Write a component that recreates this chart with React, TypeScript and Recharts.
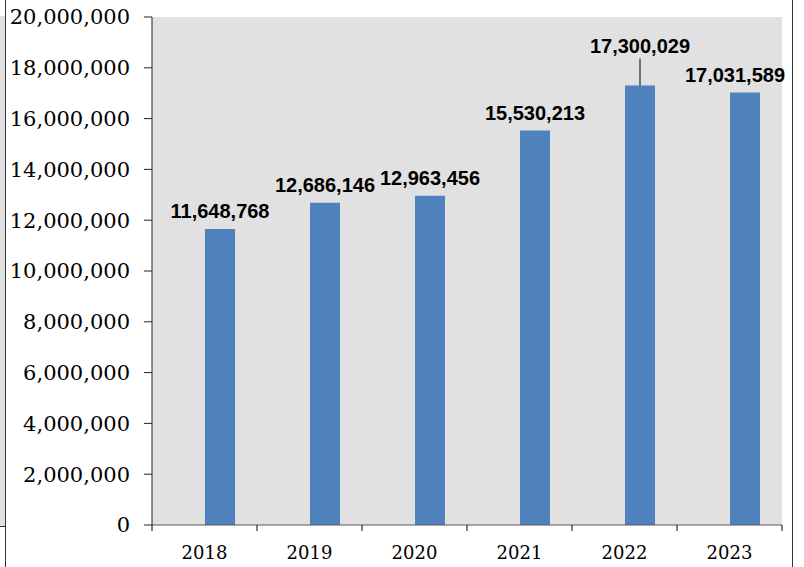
import React from 'react';
import { BarChart, Bar, XAxis, YAxis, CartesianGrid, LabelList } from 'recharts';

const years = ['2018', '2019', '2020', '2021', '2022', '2023'];
const totals = [11648768, 12686146, 12963456, 15530213, 17300029, 17031589];
const yTicks = [0, 2000000, 4000000, 6000000, 8000000, 10000000, 12000000, 14000000, 16000000, 18000000, 20000000];

const data = years.map((year, i) => ({ year, pad: null, total: totals[i] }));

const fmt = (v: number) => v.toLocaleString('en-US');

// manual nudges like the original: 2022 label lifted with a leader line, 2023 pulled left
const labelNudge: Record<number, { dx: number; dy: number; leader?: boolean }> = {
    4: { dx: 0, dy: -22, leader: true },
    5: { dx: -10, dy: 1 },
};

const BarLabel = (props: any) => {
    const { x, y, width, value, index } = props;
    const n = labelNudge[index] || { dx: 0, dy: 0 };
    const cx = Number(x) + Number(width) / 2;
    const base = Number(y) - 11 + n.dy;
    return (
        <g>
            {n.leader && <line x1={cx} y1={base + 6} x2={cx} y2={Number(y)} stroke="#000" strokeWidth={1} />}
            <text
                x={cx + n.dx}
                y={base}
                textAnchor="middle"
                fill="#000"
                style={{ fontFamily: "'Liberation Sans', Arial, sans-serif", fontSize: 20, fontWeight: 'bold' }}
            >
                {fmt(Number(value))}
            </text>
        </g>
    );
};

const YearTick = (props: any) => {
    const { x, y, payload, index } = props;
    const half = payload && payload.offset ? payload.offset : 52.5;
    const axisY = Number(y) - 21;
    return (
        <g>
            <line x1={x - half} y1={axisY} x2={x - half} y2={axisY + 6} stroke="#000" />
            {index === years.length - 1 && (
                <line x1={x + half} y1={axisY} x2={x + half} y2={axisY + 6} stroke="#000" />
            )}
            <text
                x={x}
                y={y}
                dy="0.71em"
                textAnchor="middle"
                fill="#000"
                style={{ fontFamily: "'DejaVu Serif', serif", fontSize: 18 }}
            >
                {payload.value}
            </text>
        </g>
    );
};

const App: React.FC = () => {
    return (
        <div style={{ position: 'absolute', left: 0, top: 0, width: 804, height: 567, background: '#fff' }}>
            {/* bits of the surrounding frame */}
            <div style={{ position: 'absolute', left: 0, top: 16, width: 5, height: 511, background: '#e0e0e0' }} />
            <div style={{ position: 'absolute', left: 0, top: 526, width: 6, height: 1, background: '#333' }} />
            <div style={{ position: 'absolute', left: 5, top: 0, width: 1, height: 567, background: '#333' }} />
            <div style={{ position: 'absolute', left: 792, top: 0, width: 1, height: 567, background: '#333' }} />

            <div style={{ position: 'absolute', left: 0, top: 0 }}>
                <BarChart
                    width={804}
                    height={567}
                    data={data}
                    barGap={0}
                    margin={{ top: 17, right: 22, bottom: 0, left: 0 }}
                >
                    <CartesianGrid horizontal={false} vertical={false} fill="#e1e1e1" />
                    <XAxis
                        dataKey="year"
                        height={42}
                        axisLine={{ stroke: '#595959' }}
                        tickLine={false}
                        tickSize={0}
                        tickMargin={21}
                        tick={<YearTick />}
                        interval={0}
                    />
                    <YAxis
                        width={152}
                        domain={[0, 20000000]}
                        ticks={yTicks}
                        interval={0}
                        tickFormatter={fmt}
                        axisLine={{ stroke: '#222' }}
                        tickLine={{ stroke: '#222' }}
                        tickSize={8}
                        tickMargin={14}
                        tick={{ fill: '#000', fontFamily: "'DejaVu Serif', serif", fontSize: 21 }}
                    />
                    <Bar dataKey="pad" barSize={30} isAnimationActive={false} />
                    <Bar dataKey="total" barSize={30} fill="#4f81bd" isAnimationActive={false}>
                        <LabelList dataKey="total" content={<BarLabel />} />
                    </Bar>
                </BarChart>
            </div>
        </div>
    );
};

export default App;
